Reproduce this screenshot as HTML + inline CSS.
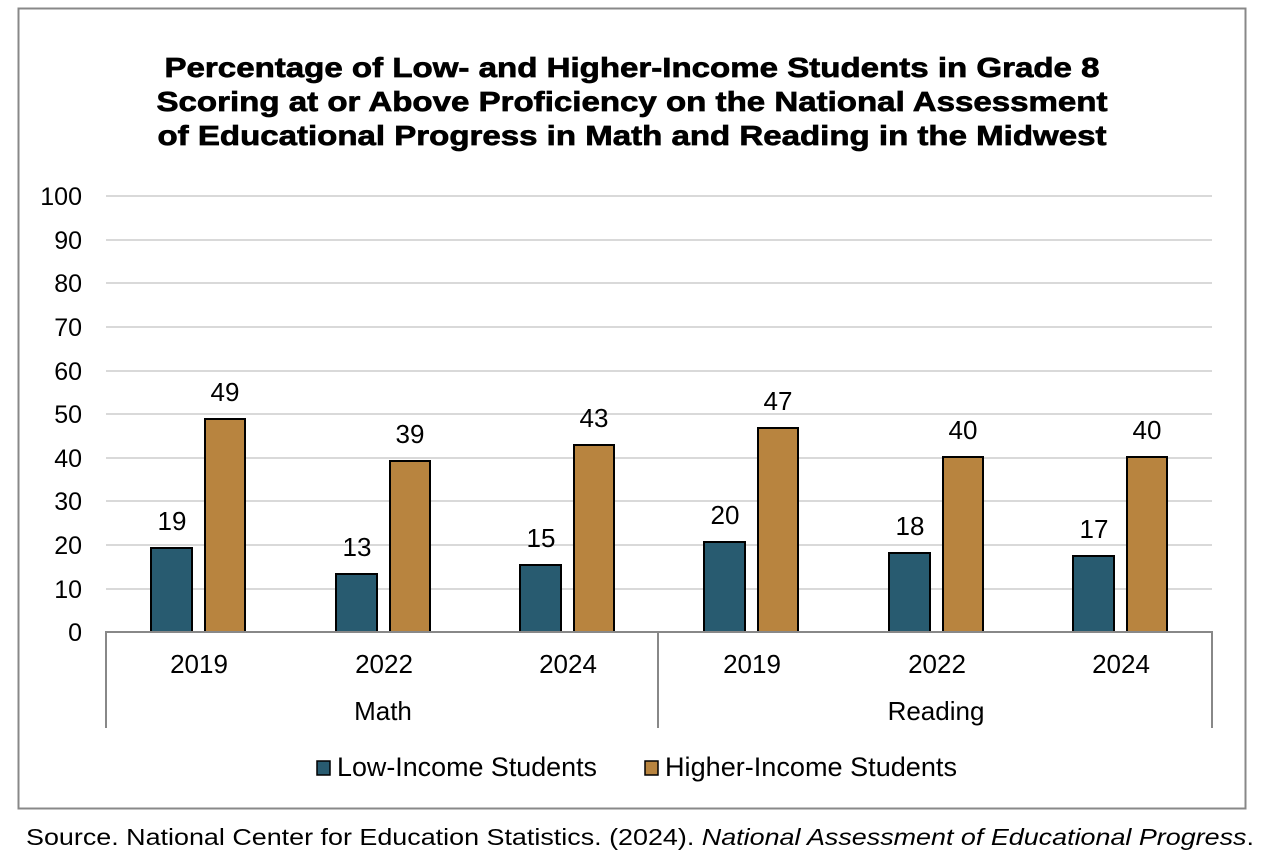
<!DOCTYPE html>
<html><head><style>
html,body{margin:0;padding:0;background:#fff;}
svg{display:block;font-family:"Liberation Sans",Arial,sans-serif;}
</style></head><body>
<svg width="1274" height="868" xmlns="http://www.w3.org/2000/svg">
<rect x="18.5" y="8.5" width="1227" height="800" fill="#fff" stroke="#888" stroke-width="2"/>
<g font-weight="bold" font-size="28" text-anchor="middle" fill="#000" stroke="#000" stroke-width="0.7">
<text x="632" y="77" textLength="935" lengthAdjust="spacingAndGlyphs">Percentage of Low- and Higher-Income Students in Grade 8</text>
<text x="632" y="111" textLength="951" lengthAdjust="spacingAndGlyphs">Scoring at or Above Proficiency on the National Assessment</text>
<text x="632" y="145" textLength="949" lengthAdjust="spacingAndGlyphs">of Educational Progress in Math and Reading in the Midwest</text>
</g>
<g stroke="#d9d9d9" stroke-width="2">
<line x1="106" x2="1212" y1="196" y2="196"/><line x1="106" x2="1212" y1="240" y2="240"/>
<line x1="106" x2="1212" y1="283" y2="283"/><line x1="106" x2="1212" y1="327" y2="327"/>
<line x1="106" x2="1212" y1="371" y2="371"/><line x1="106" x2="1212" y1="414" y2="414"/>
<line x1="106" x2="1212" y1="458" y2="458"/><line x1="106" x2="1212" y1="501" y2="501"/>
<line x1="106" x2="1212" y1="545" y2="545"/><line x1="106" x2="1212" y1="589" y2="589"/>
</g>
<g font-size="25" text-anchor="end" fill="#000">
<text x="82" y="205">100</text><text x="82" y="249">90</text><text x="82" y="292">80</text>
<text x="82" y="336">70</text><text x="82" y="380">60</text><text x="82" y="423">50</text>
<text x="82" y="467">40</text><text x="82" y="510">30</text><text x="82" y="554">20</text>
<text x="82" y="598">10</text><text x="82" y="641">0</text>
</g>
<g stroke="#000" stroke-width="2">
<rect x="151" y="548" width="41" height="84" fill="#285b70"/>
<rect x="205" y="419" width="40" height="213" fill="#b8843f"/>
<rect x="336" y="574" width="41" height="58" fill="#285b70"/>
<rect x="390" y="461" width="40" height="171" fill="#b8843f"/>
<rect x="520" y="565" width="41" height="67" fill="#285b70"/>
<rect x="574" y="445" width="40" height="187" fill="#b8843f"/>
<rect x="704" y="542" width="41" height="90" fill="#285b70"/>
<rect x="758" y="428" width="40" height="204" fill="#b8843f"/>
<rect x="889" y="553" width="41" height="79" fill="#285b70"/>
<rect x="943" y="457" width="40" height="175" fill="#b8843f"/>
<rect x="1073" y="556" width="41" height="76" fill="#285b70"/>
<rect x="1127" y="457" width="40" height="175" fill="#b8843f"/>
</g>
<g font-size="26" text-anchor="middle" fill="#000">
<text x="172" y="530">19</text><text x="225" y="401">49</text>
<text x="357" y="556">13</text><text x="410" y="443">39</text>
<text x="541" y="547">15</text><text x="594" y="427">43</text>
<text x="725" y="524">20</text><text x="778" y="410">47</text>
<text x="910" y="535">18</text><text x="963" y="439">40</text>
<text x="1094" y="538">17</text><text x="1147" y="439">40</text>
</g>
<g stroke="#888" stroke-width="2">
<line x1="105" x2="1213" y1="632" y2="632"/>
<line x1="106" x2="106" y1="632" y2="728"/>
<line x1="658" x2="658" y1="632" y2="728"/>
<line x1="1212" x2="1212" y1="632" y2="728"/>
</g>
<g font-size="26" text-anchor="middle" fill="#000">
<text x="199" y="673">2019</text><text x="384" y="673">2022</text><text x="568" y="673">2024</text>
<text x="752" y="673">2019</text><text x="937" y="673">2022</text><text x="1121" y="673">2024</text>
<text x="383" y="720">Math</text><text x="936" y="720">Reading</text>
</g>
<rect x="317" y="761" width="13" height="14" fill="#285b70" stroke="#000" stroke-width="1.5"/>
<text x="337" y="776" font-size="26.5" textLength="260" lengthAdjust="spacingAndGlyphs">Low-Income Students</text>
<rect x="645" y="761" width="13" height="14" fill="#b8843f" stroke="#000" stroke-width="1.5"/>
<text x="665" y="776" font-size="26.5" textLength="292" lengthAdjust="spacingAndGlyphs">Higher-Income Students</text>
<text x="26" y="845" font-size="23.5" textLength="1228" lengthAdjust="spacingAndGlyphs">Source. National Center for Education Statistics. (2024). <tspan font-style="italic">National Assessment of Educational Progress</tspan>.</text>
</svg>
</body></html>
